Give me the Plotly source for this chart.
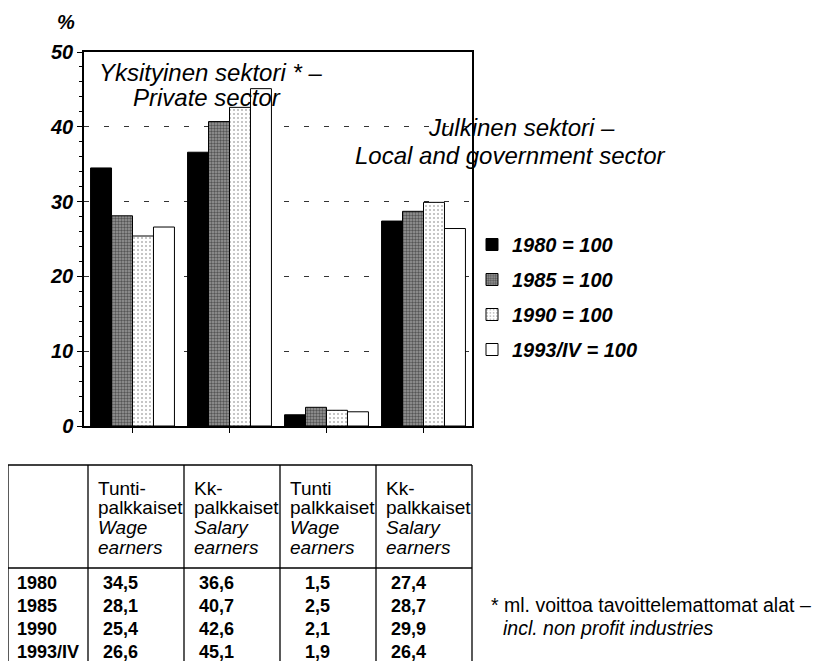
import plotly.graph_objects as go

# data
groups = ["Tunti private", "Kk private", "Tunti public", "Kk public"]
years = ["1980", "1985", "1990", "1993/IV"]
v1980 = [34.5, 36.6, 1.5, 27.4]
v1985 = [28.1, 40.7, 2.5, 28.7]
v1990 = [25.4, 42.6, 2.1, 29.9]
v1993 = [26.6, 45.1, 1.9, 26.4]
legend_names = ["1980 = 100", "1985 = 100", "1990 = 100", "1993/IV = 100"]
col_heads = [
    ["Tunti-", "palkkaiset", "Wage", "earners"],
    ["Kk-", "palkkaiset", "Salary", "earners"],
    ["Tunti", "palkkaiset", "Wage", "earners"],
    ["Kk-", "palkkaiset", "Salary", "earners"],
]

SANS = "Liberation Sans, Arial, DejaVu Sans"
NARROW = "Liberation Sans Narrow, Arial Narrow, Liberation Sans"

# the page has an 8px body margin, so the figure is shifted by OFF
OFF = 8
FW, FH = 829 - OFF, 661 - OFF
# plot box in page pixels
L, T, W, H = 84, 52, 388, 374


def px(x):
    return (x - L) / W


def py(y):
    return (T + H - y) / H


styles = [
    dict(color="black"),
    dict(color="white", pattern=dict(shape=".", fgcolor="#111", bgcolor="#999", size=3, solidity=0.5)),
    dict(color="white", pattern=dict(shape=".", fgcolor="#666", bgcolor="white", size=4, solidity=0.2)),
    dict(color="white"),
]

fig = go.Figure()
for name, vals, st in zip(legend_names, [v1980, v1985, v1990, v1993], styles):
    fig.add_trace(go.Bar(
        x=groups, y=vals, name=name,
        marker=dict(**st, line=dict(color="black", width=1)),
        legendgroup=name,
    ))

fig.update_layout(
    width=FW, height=FH, autosize=False,
    margin=dict(l=L - OFF, r=FW - (L - OFF) - W, t=T - OFF, b=FH - (T - OFF) - H),
    paper_bgcolor="white", plot_bgcolor="white",
    barmode="group", bargap=0.135, bargroupgap=0,
    font=dict(family=SANS, color="black"),
    legend=dict(
        x=px(472), y=py(225), xanchor="left", yanchor="top",
        font=dict(family=SANS, size=20, weight="bold", style="italic"),
        tracegroupgap=6, bgcolor="rgba(0,0,0,0)",
    ),
    showlegend=True,
)

fig.update_xaxes(
    showticklabels=False, ticks="outside", ticklen=5, tickcolor="black",
    showline=True, linecolor="black", linewidth=1.5, mirror=True,
    showgrid=False,
)
fig.update_yaxes(
    range=[0, 50], dtick=10, ticks="outside", ticklen=5, tickcolor="black",
    showline=True, linecolor="black", linewidth=1.5, mirror=True,
    tickfont=dict(family=SANS, size=20, weight="bold", style="italic"),
    showgrid=True, gridcolor="#333", gridwidth=1, griddash="5px,15px",
    zeroline=False,
    minor=dict(dtick=2, ticks="outside", ticklen=3, tickcolor="black", showgrid=False),
)

ann = []


def text(x, y, s, size=17, anchor="left", weight="normal", style="normal", family=SANS):
    ann.append(dict(
        x=px(x), y=py(y), xref="paper", yref="paper", text=s, showarrow=False,
        xanchor=anchor, yanchor="middle",
        font=dict(family=family, size=size, color="black", weight=weight, style=style),
    ))


text(66, 22, "%", size=20, anchor="center", weight="bold", style="italic")
text(210, 72, "Yksityinen sektori * \u2013", size=24, anchor="center", style="italic")
text(207, 97, "Private sector", size=24, anchor="center", style="italic")
text(426, 127, "Julkinen sektori \u2013", size=24, anchor="left", style="italic")
text(353, 155, "Local and government sector", size=24, anchor="left", style="italic")

# table
col_x = [8, 88, 184, 280, 376, 472]
tbl_top, head_bot, tbl_bot = 465, 568, 661
shapes = []


def line(x0, y0, x1, y1):
    shapes.append(dict(type="line", xref="paper", yref="paper",
                       x0=px(x0), y0=py(y0), x1=px(x1), y1=py(y1),
                       line=dict(color="black", width=1.3)))


line(col_x[0], tbl_top, col_x[-1], tbl_top)
line(col_x[0], head_bot, col_x[-1], head_bot)
for cx in col_x:
    line(cx, tbl_top, cx, tbl_bot)

head_y = [488, 507, 527, 547]
for i, heads in enumerate(col_heads):
    for j, h in enumerate(heads):
        text(col_x[i + 1] + 8, head_y[j], h, size=19, style="italic" if j >= 2 else "normal")

row_y = [583, 606, 629, 652]
series = [v1980, v1985, v1990, v1993]
for r, (yr, vals) in enumerate(zip(years, series)):
    text(15, row_y[r], yr, size=18, weight="bold", family=NARROW)
    for c, v in enumerate(vals):
        text(col_x[c + 1] + 52, row_y[r], f"{v:.1f}".replace(".", ","), size=18,
             anchor="right", weight="bold", family=NARROW)

# footnote
text(489, 605, "* ml. voittoa tavoittelemattomat alat \u2013", size=19.5)
text(501, 628, "incl. non profit industries", size=19.5, style="italic")

fig.update_layout(annotations=ann, shapes=shapes)
fig.write_html("out.html")
